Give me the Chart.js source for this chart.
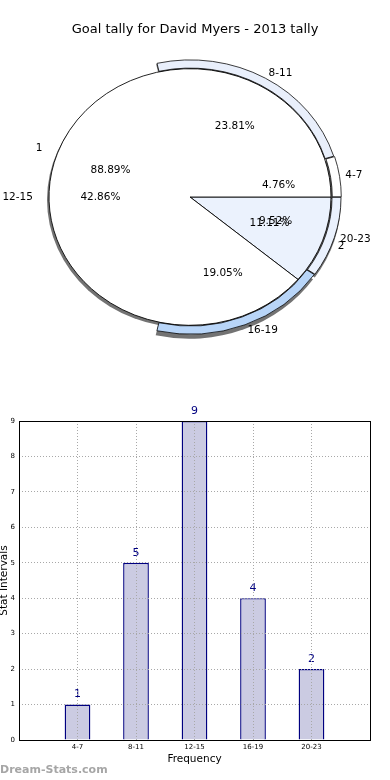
<!DOCTYPE html>
<html>
<head>
<meta charset="utf-8">
<title>Goal tally</title>
<script src="https://cdn.jsdelivr.net/npm/chart.js@4/dist/chart.umd.min.js"></script>
<style>
  html, body { margin: 0; padding: 0; background: #fff; }
  #page { position: relative; width: 390px; height: 780px; overflow: hidden; }
  canvas { position: absolute; left: 0; }
  #pie-chart { top: 0; }
  #bar-chart { top: 400px; }
</style>
</head>
<body>
<div id="page">
  <canvas id="pie-chart" width="390" height="400"></canvas>
  <canvas id="bar-chart" width="390" height="380"></canvas>
</div>
<script>
// data
const chartTitle = 'Goal tally for David Myers - 2013 tally';
const categories = ['4-7', '8-11', '12-15', '16-19', '20-23'];
const goals = [1, 5, 9, 4, 2];
const splitLabels = ['1', '2'];
const splitValues = [8, 1];
const yTicks = [0, 1, 2, 3, 4, 5, 6, 7, 8, 9];

// styling
const categoryColors = ['#ffffff', '#e9effb', '#ffffff', '#b8d5f8', '#eaf1fd'];
const ringVisible = [true, true, false, true, true]; // 12-15 is not pulled out in the reference
const splitColors = ['#ffffff', '#ebf2fd'];
const RING_OFFSET = 3;

Chart.defaults.font.family = '"DejaVu Sans", sans-serif';
Chart.defaults.color = '#000';

// matplotlib goes counterclockwise from 3 o'clock, chart.js clockwise -> reverse
const rev = arr => arr.slice().reverse();
const FLATTEN = 0.91; // the reference pie is slightly squashed vertically
const hidden = 'rgba(0,0,0,0)';

const pieLabels = {
    id: 'pieLabels',
    beforeDatasetsDraw(chart) {
        const ctx = chart.ctx;
        const outer = chart.getDatasetMeta(0).data;
        const inner = chart.getDatasetMeta(1).data[0];
        const cx = inner.x, cy = inner.y;
        const sx = cx - 2, sy = cy + 3;
        ctx.save();
        ctx.translate(cx, cy);
        ctx.scale(1, FLATTEN);
        ctx.translate(-cx, -cy);
        // shadow
        ctx.fillStyle = '#737373';
        ctx.beginPath();
        ctx.arc(sx, sy, inner.outerRadius, 0, Math.PI * 2);
        ctx.fill();
        const shown = rev(ringVisible);
        outer.forEach((el, i) => {
            if (!shown[i]) return;
            const mid = (el.startAngle + el.endAngle) / 2;
            const ox = sx + Math.cos(mid) * RING_OFFSET, oy = sy + Math.sin(mid) * RING_OFFSET;
            ctx.beginPath();
            ctx.moveTo(ox, oy);
            ctx.arc(ox, oy, el.outerRadius, el.startAngle, el.endAngle);
            ctx.closePath();
            ctx.fill();
        });
    },
    afterDatasetsDraw(chart) {
        const ctx = chart.ctx;
        ctx.restore();
        const r = chart.getDatasetMeta(1).data[0].outerRadius;
        ctx.save();
        ctx.font = '10.5px "DejaVu Sans"';
        ctx.fillStyle = '#000';
        ctx.textBaseline = 'middle';
        chart.data.datasets.forEach((ds, di) => {
            const meta = chart.getDatasetMeta(di);
            const total = ds.data.reduce((a, b) => a + b, 0);
            meta.data.forEach((el, i) => {
                const mid = (el.startAngle + el.endAngle) / 2;
                const c = Math.cos(mid), s = Math.sin(mid);
                const pd = 0.6 * r + (di === 0 ? 5 : 0);
                ctx.textAlign = 'center';
                ctx.fillText((ds.data[i] / total * 100).toFixed(2) + '%', el.x + pd * c, el.y + pd * s * FLATTEN);
                const ld = 1.1 * r + 2;
                ctx.textAlign = c >= 0 ? 'left' : 'right';
                ctx.fillText(ds.names[i], el.x + ld * c, el.y + ld * s * FLATTEN);
            });
        });
        ctx.font = '13px "DejaVu Sans"';
        ctx.textAlign = 'center';
        ctx.fillText(chartTitle, chart.width / 2, 30);
        ctx.restore();
    }
};

new Chart(document.getElementById('pie-chart'), {
    type: 'pie',
    data: {
        datasets: [
            {
                names: rev(categories),
                data: rev(goals),
                backgroundColor: rev(categoryColors.map((c, i) => ringVisible[i] ? c : hidden)),
                borderColor: rev(ringVisible.map(v => v ? '#000' : hidden)),
                borderWidth: 0.8,
                offset: rev(ringVisible.map(v => v ? RING_OFFSET : 0)),
                hoverOffset: 0,
                weight: 9
            },
            {
                names: rev(splitLabels),
                data: rev(splitValues),
                backgroundColor: rev(splitColors),
                borderColor: '#000',
                borderWidth: 0.9,
                offset: 0,
                hoverOffset: 0,
                weight: 141
            }
        ]
    },
    options: {
        responsive: false,
        animation: false,
        events: [],
        rotation: 90,
        radius: 150,
        layout: { padding: { left: 20, right: 30, top: 30, bottom: 36 } },
        plugins: { legend: { display: false }, tooltip: { enabled: false } }
    },
    plugins: [pieLabels]
});

const barLabels = {
    id: 'barLabels',
    afterDatasetsDraw(chart) {
        const ctx = chart.ctx;
        const meta = chart.getDatasetMeta(0);
        ctx.save();
        ctx.font = '11px "DejaVu Sans"';
        ctx.fillStyle = '#000080';
        ctx.textAlign = 'center';
        ctx.textBaseline = 'middle';
        meta.data.forEach((bar, i) => {
            ctx.fillText(String(goals[i]), bar.x, bar.y - 10);
        });
        ctx.restore();
    },
    afterDraw(chart) {
        const ctx = chart.ctx;
        const a = chart.chartArea;
        ctx.save();
        ctx.strokeStyle = '#000';
        ctx.lineWidth = 1;
        ctx.strokeRect(Math.round(a.left) + 0.5, Math.round(a.top) + 0.5, Math.round(a.right - a.left), Math.round(a.bottom - a.top));
        ctx.font = 'bold 11px "DejaVu Sans"';
        ctx.fillStyle = '#a6a6a6';
        ctx.textAlign = 'left';
        ctx.textBaseline = 'middle';
        ctx.fillText('Dream-Stats.com', 0, 370);
        ctx.restore();
    }
};

new Chart(document.getElementById('bar-chart'), {
    type: 'bar',
    data: {
        datasets: [{
            data: goals.map((g, i) => ({ x: i, y: g })),
            backgroundColor: '#cbcbe2',
            borderColor: '#000080',
            borderWidth: 1.4,
            barPercentage: 0.44,
            categoryPercentage: 1
        }]
    },
    options: {
        responsive: false,
        animation: false,
        events: [],
        layout: { padding: { top: 21, right: 20, left: 0, bottom: 12 } },
        plugins: { legend: { display: false }, tooltip: { enabled: false } },
        scales: {
            x: {
                type: 'linear',
                min: -1,
                max: 5,
                offset: false,
                afterBuildTicks: s => { s.ticks = categories.map((c, i) => ({ value: i })); },
                afterFit: s => { s.height = 28; },
                ticks: { callback: v => categories[v], font: { size: 7 }, padding: 3, maxRotation: 0, autoSkip: false },
                grid: { color: '#a8a8a8', drawTicks: false, offset: false, z: 1 },
                border: { display: false, dash: [1, 2] },
                title: { display: true, text: 'Frequency', font: { size: 10.5 }, padding: { top: 0, bottom: 2 } }
            },
            y: {
                min: 0,
                max: 9,
                afterBuildTicks: s => { s.ticks = yTicks.map(v => ({ value: v })); },
                afterFit: s => { s.width = 19; },
                ticks: { font: { size: 7 }, padding: 4 },
                grid: { color: '#a8a8a8', drawTicks: false, z: 1 },
                border: { display: false, dash: [1, 2] },
                title: { display: true, text: 'Stat Intervals', font: { size: 10.5 }, padding: { top: -2, bottom: 0 } }
            }
        }
    },
    plugins: [barLabels]
});
</script>
</body>
</html>
